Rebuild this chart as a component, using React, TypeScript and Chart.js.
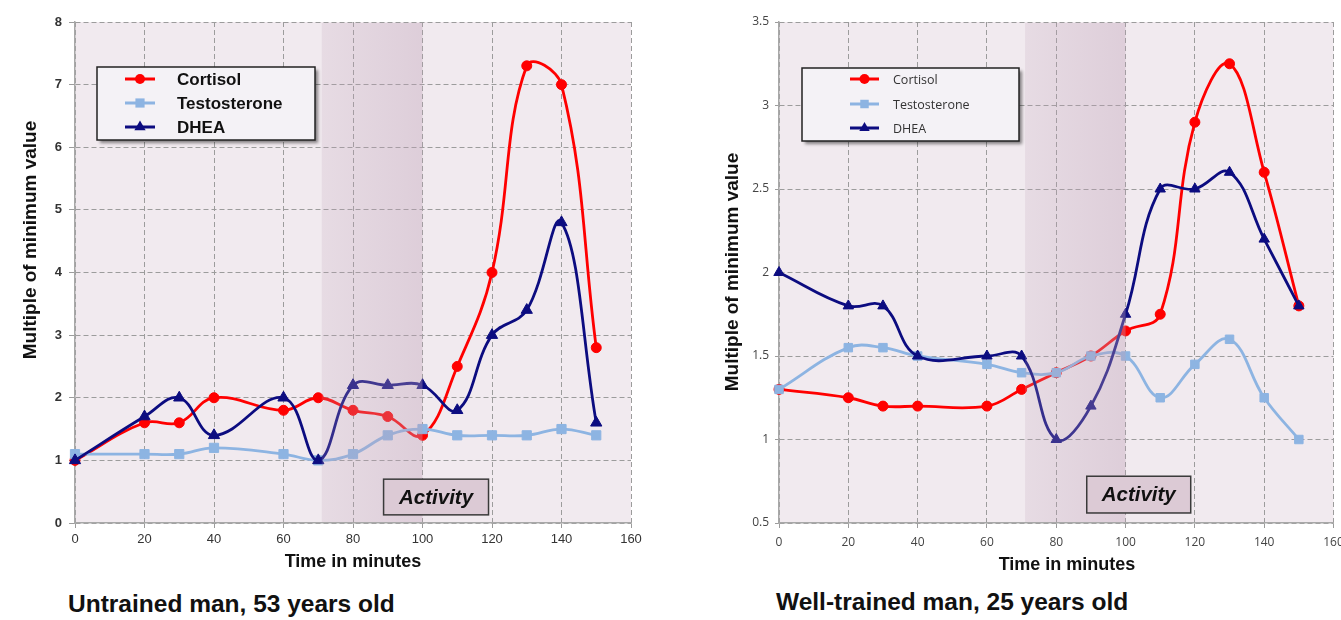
import React, { useEffect, useRef } from 'react';
import { Chart, registerables } from 'chart.js';

Chart.register(...registerables);

// ---------- data ----------
const times = [0, 20, 30, 40, 60, 70, 80, 90, 100, 110, 120, 130, 140, 150];
const seriesNames = ['Cortisol', 'Testosterone', 'DHEA'];
const xTicksMax = 160;
const activityWindow = [71, 100];
const activityLabel = 'Activity';

const untrainedCortisol = [1.0, 1.6, 1.6, 2.0, 1.8, 2.0, 1.8, 1.7, 1.4, 2.5, 4.0, 7.3, 7.0, 2.8];
const untrainedTestosterone = [1.1, 1.1, 1.1, 1.2, 1.1, 1.0, 1.1, 1.4, 1.5, 1.4, 1.4, 1.4, 1.5, 1.4];
const untrainedDhea = [1.0, 1.7, 2.0, 1.4, 2.0, 1.0, 2.2, 2.2, 2.2, 1.8, 3.0, 3.4, 4.8, 1.6];
const untrainedYRange = [0, 8, 1];
const untrainedCaption = 'Untrained man, 53 years old';

const trainedCortisol = [1.3, 1.25, 1.2, 1.2, 1.2, 1.3, 1.4, 1.5, 1.65, 1.75, 2.9, 3.25, 2.6, 1.8];
const trainedTestosterone = [1.3, 1.55, 1.55, 1.5, 1.45, 1.4, 1.4, 1.5, 1.5, 1.25, 1.45, 1.6, 1.25, 1.0];
const trainedDhea = [2.0, 1.8, 1.8, 1.5, 1.5, 1.5, 1.0, 1.2, 1.75, 2.5, 2.5, 2.6, 2.2, 1.8];
const trainedYRange = [0.5, 3.5, 0.5];
const trainedCaption = 'Well-trained man, 25 years old';

const xTitle = 'Time in minutes';
const yTitle = 'Multiple of minimum value';

// ---------- styles ----------
const seriesColors = ['#ff0000', '#8db4e2', '#0c0c80'];
const pointStyles = ['circle', 'rect', 'triangle'];
const ARIAL = "'Liberation Sans', Arial, sans-serif";
const OPEN = "'Open Sans', 'Liberation Sans', sans-serif";

function drawMarker(ctx: CanvasRenderingContext2D, style: string, x: number, y: number, r: number, color: string) {
  ctx.save();
  ctx.fillStyle = color;
  ctx.beginPath();
  if (style === 'circle') {
    ctx.arc(x, y, r, 0, Math.PI * 2);
  } else if (style === 'rect') {
    const s = r * Math.SQRT1_2;
    ctx.rect(x - s, y - s, 2 * s, 2 * s);
  } else {
    ctx.moveTo(x, y - r);
    ctx.lineTo(x + r * Math.sin((2 * Math.PI) / 3), y - r * Math.cos((2 * Math.PI) / 3));
    ctx.lineTo(x + r * Math.sin((4 * Math.PI) / 3), y - r * Math.cos((4 * Math.PI) / 3));
    ctx.closePath();
  }
  ctx.fill();
  ctx.restore();
}

function decor(p: any) {
  return {
    id: 'decor',
    beforeDraw(chart: any) {
      const { ctx, chartArea: a } = chart;
      ctx.save();
      ctx.fillStyle = '#f1eaef';
      ctx.fillRect(a.left, a.top, a.right - a.left, a.bottom - a.top);
      ctx.restore();
    },
    afterDatasetsDraw(chart: any) {
      const { ctx, chartArea: a, scales } = chart;
      const x = scales.x;
      const y = scales.y;
      // activity band
      const bx0 = x.getPixelForValue(activityWindow[0]);
      const bx1 = x.getPixelForValue(activityWindow[1]);
      const g = ctx.createLinearGradient(bx0, 0, bx1, 0);
      g.addColorStop(0, 'rgba(190,160,182,0.20)');
      g.addColorStop(1, 'rgba(190,160,182,0.38)');
      ctx.save();
      ctx.fillStyle = g;
      ctx.fillRect(bx0, a.top + 1, bx1 - bx0, a.bottom - a.top - 2);
      ctx.restore();

      // activity box
      const ab = p.activity;
      const ax0 = x.getPixelForValue(ab.x[0]);
      const ax1 = x.getPixelForValue(ab.x[1]);
      const ay0 = y.getPixelForValue(ab.y[1]);
      const ay1 = y.getPixelForValue(ab.y[0]);
      ctx.save();
      ctx.fillStyle = '#dccad5';
      ctx.fillRect(ax0, ay0, ax1 - ax0, ay1 - ay0);
      ctx.strokeStyle = '#3a3a3a';
      ctx.lineWidth = 1.5;
      ctx.strokeRect(ax0, ay0, ax1 - ax0, ay1 - ay0);
      ctx.fillStyle = '#111';
      ctx.font = `italic bold ${ab.size}px ${ARIAL}`;
      ctx.textAlign = 'center';
      ctx.textBaseline = 'middle';
      ctx.fillText(activityLabel, (ax0 + ax1) / 2, (ay0 + ay1) / 2 + 1);
      ctx.restore();

      // legend
      const L = p.legend;
      ctx.save();
      ctx.shadowColor = 'rgba(0,0,0,0.45)';
      ctx.shadowOffsetX = 3;
      ctx.shadowOffsetY = 3;
      ctx.shadowBlur = 3;
      ctx.fillStyle = '#f4f2f6';
      ctx.fillRect(L.x, L.y, L.w, L.h);
      ctx.restore();
      ctx.save();
      ctx.strokeStyle = '#222';
      ctx.lineWidth = 1.5;
      ctx.strokeRect(L.x, L.y, L.w, L.h);
      ctx.restore();
      seriesNames.forEach((name, i) => {
        const ry = L.rows[i];
        ctx.save();
        ctx.strokeStyle = seriesColors[i];
        ctx.lineWidth = 3;
        ctx.beginPath();
        ctx.moveTo(L.lx0, ry);
        ctx.lineTo(L.lx1, ry);
        ctx.stroke();
        ctx.restore();
        drawMarker(ctx, pointStyles[i], (L.lx0 + L.lx1) / 2, ry, p.radii[i], seriesColors[i]);
        ctx.save();
        ctx.fillStyle = L.color;
        ctx.font = L.font;
        ctx.textAlign = 'left';
        ctx.textBaseline = 'middle';
        ctx.fillText(name, L.tx, ry + 1);
        ctx.restore();
      });
    },
    afterDraw(chart: any) {
      const { ctx } = chart;
      const T = p.titles;
      ctx.save();
      ctx.fillStyle = '#111';
      ctx.textAlign = 'center';
      ctx.textBaseline = 'middle';
      ctx.font = `bold ${T.xSize}px ${ARIAL}`;
      ctx.fillText(xTitle, T.x[0], T.x[1]);
      ctx.translate(T.y[0], T.y[1]);
      ctx.rotate(-Math.PI / 2);
      ctx.font = `bold ${T.ySize}px ${ARIAL}`;
      ctx.fillText(yTitle, 0, 0);
      ctx.restore();
    },
  };
}

function HormonePanel(p: any) {
  const ref = useRef<HTMLCanvasElement>(null);
  useEffect(() => {
    if (!ref.current) return;
    const series = [p.cortisol, p.testosterone, p.dhea];
    const chart = new Chart(ref.current, {
      type: 'line',
      data: {
        datasets: seriesNames.map((name, i) => ({
          label: name,
          data: times.map((t, j) => ({ x: t, y: series[i][j] })),
          borderColor: seriesColors[i],
          backgroundColor: seriesColors[i],
          borderWidth: 2.8,
          tension: 0.4,
          fill: false,
          pointStyle: pointStyles[i],
          pointRadius: p.radii[i],
          pointHoverRadius: p.radii[i],
          pointBackgroundColor: seriesColors[i],
          pointBorderColor: seriesColors[i],
          pointBorderWidth: 1,
          clip: false,
          order: 3 - i,
        })),
      },
      options: {
        animation: false,
        responsive: false,
        events: [],
        layout: { padding: { left: 0, right: p.padRight, top: p.padTop, bottom: 0 } },
        plugins: { legend: { display: false }, tooltip: { enabled: false } },
        scales: {
          x: {
            type: 'linear',
            min: 0,
            max: xTicksMax,
            ticks: { stepSize: 20, font: p.xTickFont, color: p.tickColor, padding: p.xTick[1], maxRotation: 0 },
            grid: { color: '#9c9c9c', lineWidth: 1, tickLength: p.xTick[0], tickColor: '#9c9c9c' },
            border: { display: true, color: '#a8a8a8', width: 1.5, dash: [5, 3] },
            afterFit: (s: any) => { s.height = p.xScaleHeight; },
          },
          y: {
            type: 'linear',
            min: p.yRange[0],
            max: p.yRange[1],
            ticks: {
              stepSize: p.yRange[2],
              font: p.yTickFont,
              color: p.tickColor,
              padding: p.yTick[1],
              callback: (v: any) => String(Number(v)),
            },
            grid: { color: '#9c9c9c', lineWidth: 1, tickLength: p.yTick[0], tickColor: '#9c9c9c' },
            border: { display: true, color: '#a8a8a8', width: 1.5, dash: [5, 3] },
            afterFit: (s: any) => { s.width = p.yScaleWidth; },
          },
        },
      } as any,
      plugins: [decor(p)],
    });
    return () => chart.destroy();
  }, []);
  return (
    <div style={{ position: 'absolute', left: p.left, top: 0, width: p.width, height: p.height }}>
      <canvas ref={ref} width={p.width} height={p.height} style={{ display: 'block', width: p.width, height: p.height }} />
    </div>
  );
}

export default function App() {
  return (
    <div style={{ position: 'absolute', left: 0, top: 0, width: 1341, height: 620, overflow: 'hidden', background: '#ffffff' }}>
      <HormonePanel
        left={0}
        width={700}
        height={580}
        cortisol={untrainedCortisol}
        testosterone={untrainedTestosterone}
        dhea={untrainedDhea}
        yRange={untrainedYRange}
        yScaleWidth={75}
        padRight={69}
        padTop={22}
        xScaleHeight={57}
        xTickFont={{ family: ARIAL, size: 13 }}
        yTickFont={{ family: ARIAL, size: 13, weight: 'bold' }}
        tickColor="#333"
        xTick={[5, 4]}
        yTick={[6, 7]}
        radii={[5, 6.5, 6.5]}
        activity={{ x: [88.8, 119], y: [0.13, 0.7], size: 20.5 }}
        legend={{ x: 97, y: 67, w: 218, h: 73, lx0: 125, lx1: 155, tx: 177, rows: [79, 103, 127], font: `bold 17px ${ARIAL}`, color: '#111' }}
        titles={{ x: [353, 562], y: [31, 240], xSize: 18, ySize: 19 }}
      />
      <HormonePanel
        left={700}
        width={660}
        height={580}
        cortisol={trainedCortisol}
        testosterone={trainedTestosterone}
        dhea={trainedDhea}
        yRange={trainedYRange}
        yScaleWidth={79}
        padRight={26.5}
        padTop={22}
        xScaleHeight={57}
        xTickFont={{ family: OPEN, size: 12 }}
        yTickFont={{ family: OPEN, size: 12 }}
        tickColor="#444"
        xTick={[5, 7]}
        yTick={[4, 6]}
        radii={[5, 6, 6]}
        activity={{ x: [88.8, 118.8], y: [0.56, 0.78], size: 20.5 }}
        legend={{ x: 102, y: 68, w: 217, h: 73, lx0: 150, lx1: 179, tx: 193, rows: [79, 104, 128], font: `12.5px ${OPEN}`, color: '#333' }}
        titles={{ x: [367, 565], y: [33, 272], xSize: 18, ySize: 19 }}
      />
      <div style={{ position: 'absolute', left: 68, top: 590, font: `bold 24.5px ${ARIAL}`, lineHeight: '28px', color: '#111', whiteSpace: 'nowrap' }}>
        {untrainedCaption}
      </div>
      <div style={{ position: 'absolute', left: 776, top: 588, font: `bold 24.5px ${ARIAL}`, lineHeight: '28px', color: '#111', whiteSpace: 'nowrap' }}>
        {trainedCaption}
      </div>
    </div>
  );
}
